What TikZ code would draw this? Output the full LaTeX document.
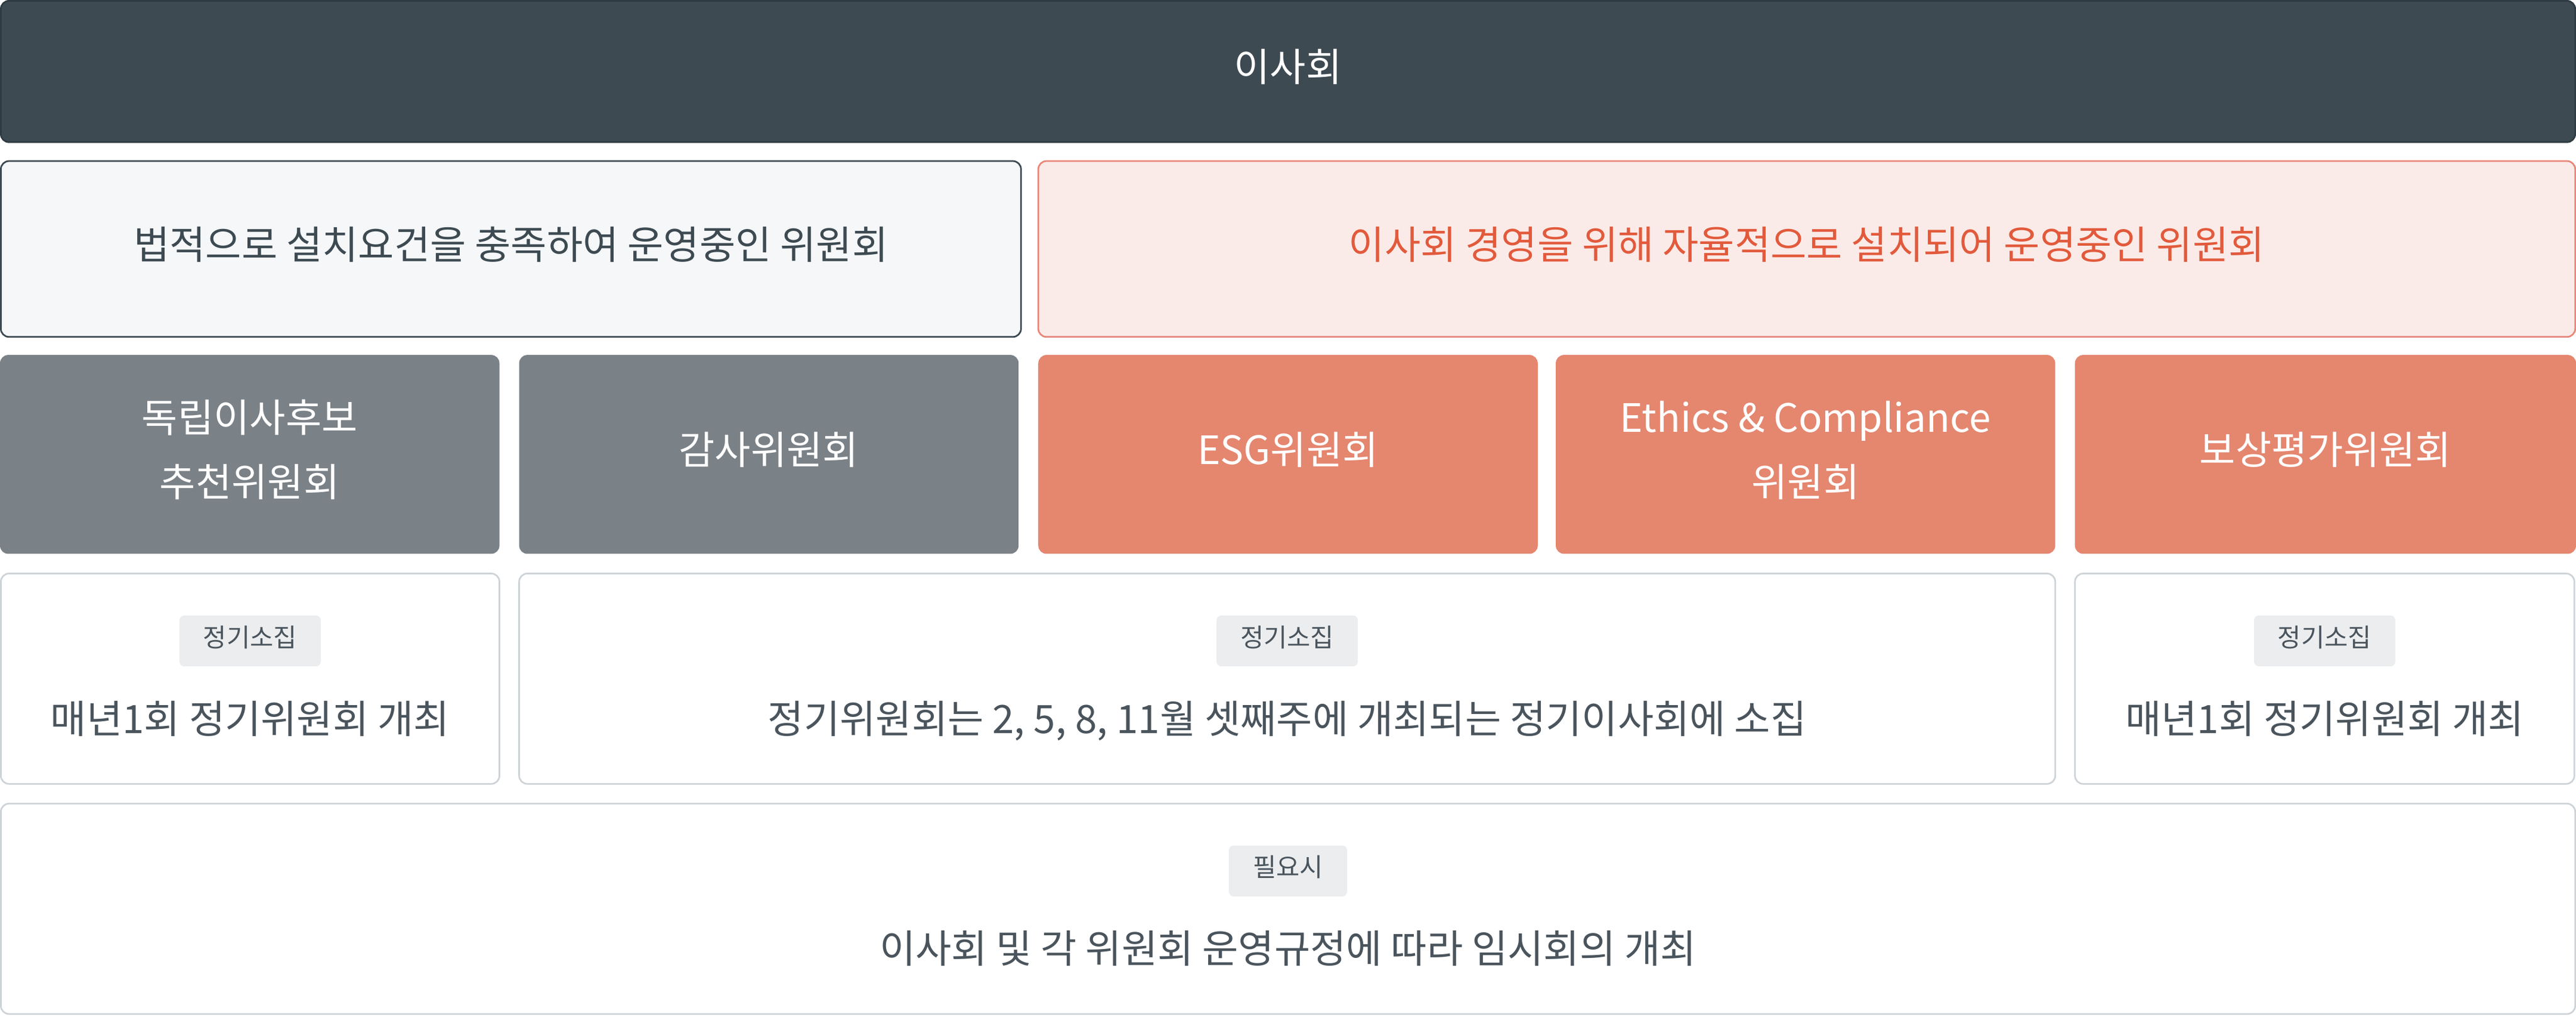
\documentclass[tikz,border=0pt]{standalone}
\usepackage{fontspec}
\setmainfont{Noto Sans CJK KR}
\definecolor{darkbg}{HTML}{3D4A52}
\definecolor{darkline}{HTML}{2F3B42}
\definecolor{lightbg}{HTML}{F5F7F9}
\definecolor{pinkbg}{HTML}{FBEBE8}
\definecolor{pinkline}{HTML}{E8877A}
\definecolor{redtext}{HTML}{E25A3C}
\definecolor{graybox}{HTML}{7A8187}
\definecolor{salmon}{HTML}{E5866F}
\definecolor{cardline}{HTML}{CED3D7}
\definecolor{cardtext}{HTML}{4A545C}
\definecolor{badgebg}{HTML}{EBEDEF}
\tikzset{
  box/.style={rectangle, rounded corners=5pt, inner sep=0pt, outer sep=0pt, anchor=north west, line width=1pt,
    font=\fontsize{23.8pt}{28pt}\selectfont, text height=12.2pt, text depth=0pt},
  topbox/.style={box, fill=darkbg, draw=darkline, text=white},
  lawbox/.style={box, fill=lightbg, draw=darkbg, text=darkbg},
  selfbox/.style={box, fill=pinkbg, draw=pinkline, text=redtext},
  graycom/.style={box, fill=graybox, text=white},
  salmoncom/.style={box, fill=salmon, text=white},
  card/.style={box, fill=white, draw=cardline},
  badge/.style={rectangle, rounded corners=3pt, fill=badgebg, text=cardtext, inner sep=0pt,
    minimum height=31pt, font=\fontsize{15.5pt}{18pt}\selectfont, text height=7pt, text depth=0pt},
  cardtxt/.style={inner sep=0pt, text=cardtext, font=\fontsize{23.8pt}{28pt}\selectfont, text height=12.2pt, text depth=0pt},
  linetxt/.style={inner sep=0pt, text=white, font=\fontsize{23.8pt}{28pt}\selectfont, text height=12.2pt, text depth=0pt}
}
\begin{document}
\begin{tikzpicture}[x=1pt,y=-1pt]
\useasboundingbox (0,0) rectangle (1568,618.5);

% board
\node[topbox, minimum width=1567pt, minimum height=86pt] (board) at (0.5,0.5) {이사회};

% row 2
\node[lawbox, minimum width=621pt, minimum height=107pt] (law) at (0.5,98) {법적으로 설치요건을 충족하여 운영중인 위원회};
\node[selfbox, minimum width=935.5pt, minimum height=107pt] (self) at (632,98) {이사회 경영을 위해 자율적으로 설치되어 운영중인 위원회};

% row 3 committees
\node[graycom, minimum width=304pt, minimum height=121pt] (nom) at (0,216) {};
\node[linetxt] (nomA) at ([yshift=19.5pt]nom.center) {독립이사후보};
\node[linetxt] (nomB) at ([yshift=-19.5pt]nom.center) {추천위원회};
\node[graycom, minimum width=304pt, minimum height=121pt] (audit) at (316,216) {감사위원회};
\node[salmoncom, minimum width=304pt, minimum height=121pt] (esg) at (632,216) {ESG위원회};
\node[salmoncom, minimum width=304pt, minimum height=121pt] (ethics) at (947,216) {};
\node[linetxt] (ethA) at ([yshift=19.5pt]ethics.center) {Ethics \& Compliance};
\node[linetxt] (ethB) at ([yshift=-19.5pt]ethics.center) {위원회};
\node[salmoncom, minimum width=305pt, minimum height=121pt] (comp) at (1263,216) {보상평가위원회};

% row 4 cards
\node[card, minimum width=303.5pt, minimum height=128pt] (cardL) at (0.5,349) {};
\node[card, minimum width=935pt, minimum height=128pt] (cardM) at (316,349) {};
\node[card, minimum width=304pt, minimum height=128pt] (cardR) at (1263,349) {};

\node[badge, minimum width=86pt] (bL) at ([yshift=23pt]cardL.center) {정기소집};
\node[cardtxt] (tL) at ([yshift=-27pt]cardL.center) {매년1회 정기위원회 개최};
\node[badge, minimum width=86pt] (bM) at ([yshift=23pt]cardM.center) {정기소집};
\node[cardtxt] (tM) at ([yshift=-27pt]cardM.center) {정기위원회는 2, 5, 8, 11월 셋째주에 개최되는 정기이사회에 소집};
\node[badge, minimum width=86pt] (bR) at ([yshift=23pt]cardR.center) {정기소집};
\node[cardtxt] (tR) at ([yshift=-27pt]cardR.center) {매년1회 정기위원회 개최};

% row 5
\node[card, minimum width=1567pt, minimum height=128pt] (cardB) at (0.5,489) {};
\node[badge, minimum width=72pt] (bB) at ([yshift=23pt]cardB.center) {필요시};
\node[cardtxt] (tB) at ([yshift=-27pt]cardB.center) {이사회 및 각 위원회 운영규정에 따라 임시회의 개최};
\end{tikzpicture}
\end{document}
